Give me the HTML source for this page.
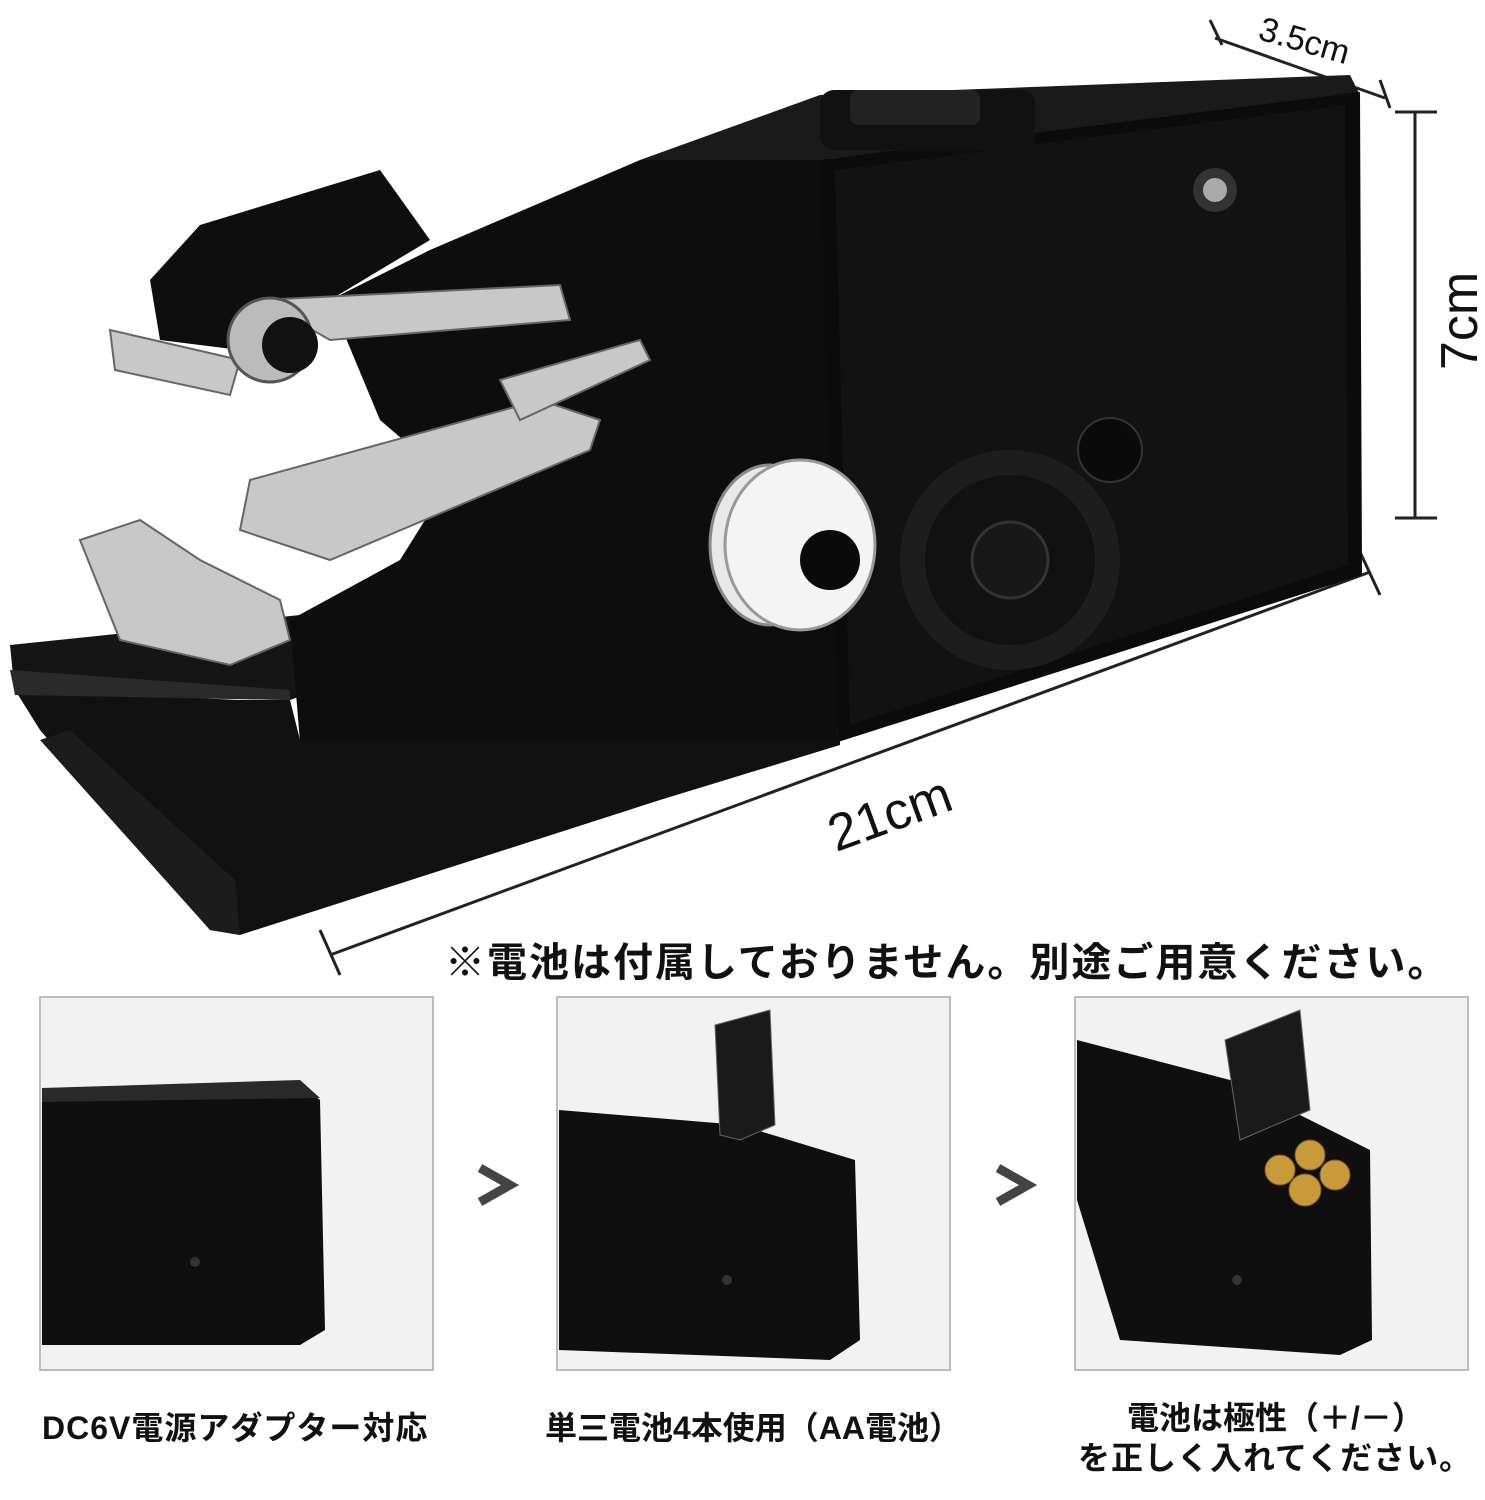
<!DOCTYPE html>
<html><head><meta charset="utf-8"><style>
html,body{margin:0;padding:0;background:#fff;}
body{width:1485px;height:1500px;position:relative;overflow:hidden;font-family:"Liberation Sans","Noto Sans CJK JP",sans-serif;}
.t{position:absolute;color:#111;white-space:nowrap;}
</style></head><body>
<svg width="1485" height="1500" style="position:absolute;left:0;top:0" xmlns="http://www.w3.org/2000/svg">
<g stroke="#222" stroke-width="3" fill="none">
<line x1="1215" y1="38" x2="1385" y2="98"/>
<line x1="1210" y1="20" x2="1222" y2="45"/>
<line x1="1380" y1="80" x2="1390" y2="108"/>
<line x1="1415" y1="112" x2="1415" y2="518"/>
<line x1="1395" y1="112" x2="1437" y2="112"/>
<line x1="1395" y1="518" x2="1437" y2="518"/>
<line x1="330" y1="955" x2="1370" y2="572"/>
<line x1="320" y1="930" x2="340" y2="975"/>
<line x1="1360" y1="552" x2="1380" y2="595"/>
</g>
<polygon points="15,690 240,700 290,700 300,740 840,735 840,745 660,800 240,935 210,930 40,730" fill="#111"/>
<polygon points="40,740 210,930 240,935 235,880 70,730" fill="#1c1c1c"/>
<polygon points="10,645 300,615 420,600 430,650 290,700 15,695" fill="#151515"/>
<polygon points="10,670 290,690 290,700 15,695" fill="#2a2a2a"/>
<polygon points="330,300 430,250 640,160 830,150 838,742 300,742 290,620 400,560 450,480 380,420" fill="#0d0d0d"/>
<polygon points="640,160 820,95 1350,75 1360,95 820,160" fill="#1a1a1a"/>
<polygon points="820,160 1360,92 1362,575 838,742" fill="#0b0b0b"/>
<polygon points="835,170 1345,105 1348,565 850,725" fill="#121212"/>
<rect x="820" y="90" width="215" height="60" rx="14" fill="#111"/>
<rect x="850" y="90" width="130" height="35" rx="8" fill="#222"/>
<circle cx="1215" cy="190" r="22" fill="#333"/><circle cx="1215" cy="190" r="12" fill="#aaa"/>
<circle cx="1010" cy="560" r="110" fill="#1d1d1d"/>
<circle cx="1010" cy="560" r="85" fill="#111"/>
<circle cx="1010" cy="560" r="38" fill="#181818" stroke="#333" stroke-width="3"/>
<circle cx="1110" cy="450" r="32" fill="#0a0a0a" stroke="#333" stroke-width="2"/>
<polygon points="150,280 200,225 380,170 430,240 330,300 240,350 160,340" fill="#0e0e0e"/>
<g fill="#c8c8c8" stroke="#666" stroke-width="2">
<polygon points="260,300 560,285 570,320 330,340"/>
<polygon points="250,480 540,400 600,420 590,450 330,560 240,530"/>
<polygon points="500,380 640,340 650,360 520,420"/>
<polygon points="80,540 140,520 200,560 280,600 290,640 230,665 120,640 100,590"/>
<polygon points="110,330 240,360 230,395 115,370"/>
</g>
<circle cx="270" cy="340" r="42" fill="#bbb" stroke="#555" stroke-width="3"/>
<circle cx="290" cy="345" r="28" fill="#111"/>
<ellipse cx="770" cy="545" rx="60" ry="80" fill="#e8e8e8" stroke="#888" stroke-width="3"/>
<ellipse cx="800" cy="545" rx="75" ry="85" fill="#f4f4f4" stroke="#999" stroke-width="3"/>
<circle cx="830" cy="560" r="30" fill="#0a0a0a"/>
<g>
<rect x="40" y="997" width="393" height="373" fill="#f2f2f2" stroke="#bbb" stroke-width="2"/>
<polygon points="42,1095 300,1085 320,1100 325,1330 300,1345 42,1345" fill="#0f0f0f"/>
<polygon points="42,1088 300,1080 320,1098 42,1102" fill="#2a2a2a"/>
<circle cx="195" cy="1262" r="5" fill="#333"/>
<rect x="557" y="997" width="393" height="373" fill="#f2f2f2" stroke="#bbb" stroke-width="2"/>
<polygon points="559,1110 740,1125 855,1160 860,1340 830,1360 559,1350" fill="#0f0f0f"/>
<polygon points="715,1025 770,1010 775,1125 740,1140 720,1135" fill="#1a1a1a" stroke="#666"/>
<circle cx="727" cy="1280" r="5" fill="#333"/>
<rect x="1075" y="997" width="393" height="373" fill="#f2f2f2" stroke="#bbb" stroke-width="2"/>
<polygon points="1077,1040 1230,1080 1370,1150 1372,1340 1340,1355 1120,1340 1077,1200" fill="#0f0f0f"/>
<polygon points="1225,1040 1300,1010 1310,1110 1240,1140" fill="#1a1a1a" stroke="#666"/>
<g fill="#c89a3a" stroke="#7a5a20"><circle cx="1280" cy="1170" r="15"/><circle cx="1310" cy="1155" r="15"/><circle cx="1335" cy="1175" r="15"/><circle cx="1305" cy="1190" r="16"/></g>
<circle cx="1237" cy="1280" r="5" fill="#333"/>
</g>
<g fill="none" stroke="#444" stroke-width="9"><polyline points="480,1168 510,1185 480,1202"/><polyline points="998,1168 1028,1185 998,1202"/></g>
</svg>
<div class="t" style="left:1265px;top:10px;font-size:34px;transform:rotate(16deg);transform-origin:left top;">3.5cm</div>
<div class="t" style="left:1430px;top:370px;font-size:52px;transform:rotate(-90deg);transform-origin:left top;">7cm</div>
<div class="t" style="left:820px;top:808px;font-size:52px;transform:rotate(-20deg);transform-origin:left top;">21cm</div>
<div class="t" style="left:445px;top:930px;font-size:40px;letter-spacing:2px;font-weight:bold;">※電池は付属しておりません。別途ご用意ください。</div>
<div class="t" style="left:42px;top:1403px;font-size:32px;font-weight:bold;letter-spacing:1px;">DC6V電源アダプター対応</div>
<div class="t" style="left:545px;top:1403px;font-size:32px;font-weight:bold;">単三電池4本使用（AA電池）</div>
<div class="t" style="left:1127px;top:1393px;font-size:32px;font-weight:bold;">電池は極性（＋/－）</div>
<div class="t" style="left:1078px;top:1433px;font-size:32px;font-weight:bold;letter-spacing:1px;">を正しく入れてください。</div>
</body></html>
